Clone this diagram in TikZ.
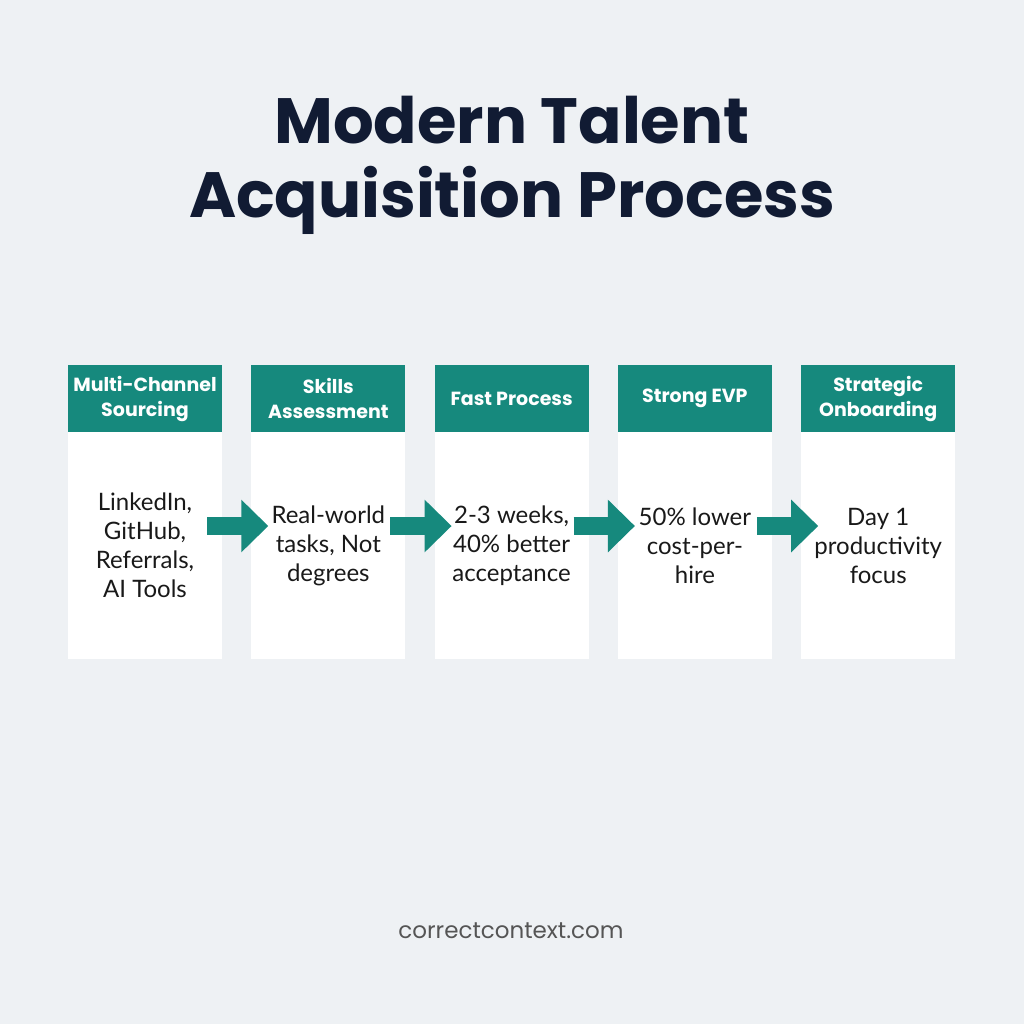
\documentclass[tikz,border=0pt]{standalone}
\usepackage{fontspec}
\setmainfont{Lato}
\newfontfamily\titlefont{Poppins}
\usepackage{xcolor}
\usetikzlibrary{arrows.meta, positioning}

\definecolor{stepteal}{HTML}{16897D}
\definecolor{titlenavy}{HTML}{111B33}
\definecolor{canvas}{HTML}{EEF1F4}
\definecolor{footgray}{HTML}{555555}

\begin{document}
\begin{tikzpicture}[
    node distance=0pt and 14.65pt,
    header/.style={rectangle, fill=stepteal, minimum width=77pt, minimum height=33.5pt, inner sep=0pt, outer sep=0pt, align=center, text=white, font=\titlefont\bfseries\fontsize{9.5}{12.5}\selectfont},
    body/.style={rectangle, fill=white, minimum width=77pt, minimum height=113.5pt, inner sep=0pt, outer sep=0pt, align=center, text=black!90, font=\fontsize{12}{14.5}\selectfont},
    arrow/.style={-{Triangle[length=13.5pt, width=25.5pt]}, line width=9pt, draw=stepteal}
]
\fill[canvas] (0,0) rectangle (512pt,-512pt);
\node[font=\titlefont\bfseries\fontsize{32}{37}\selectfont, text=titlenavy, align=center] (title) at (256pt,-82.5pt) {Modern Talent\\Acquisition Process};
\node[header] (src_head) at (72.5pt,-199.25pt) {Multi-Channel\\Sourcing};
\node[header, right=of src_head] (skill_head) {Skills\\Assessment};
\node[header, right=of skill_head] (fast_head) {Fast Process};
\node[header, right=of fast_head] (evp_head) {Strong EVP};
\node[header, right=of evp_head] (onb_head) {Strategic\\Onboarding};
\node[body, below=of src_head] (src_body) {LinkedIn,\\GitHub,\\Referrals,\\AI Tools};
\node[body, below=of skill_head] (skill_body) {Real-world\\tasks, Not\\degrees};
\node[body, below=of fast_head] (fast_body) {2-3 weeks,\\40\% better\\acceptance};
\node[body, below=of evp_head] (evp_body) {50\% lower\\cost-per-\\hire};
\node[body, below=of onb_head] (onb_body) {Day 1\\productivity\\focus};
\draw[arrow] ([xshift=-7.5pt, yshift=9.75pt]src_body.east) -- ([xshift=8.5pt, yshift=9.75pt]skill_body.west);
\draw[arrow] ([xshift=-7.5pt, yshift=9.75pt]skill_body.east) -- ([xshift=8.5pt, yshift=9.75pt]fast_body.west);
\draw[arrow] ([xshift=-7.5pt, yshift=9.75pt]fast_body.east) -- ([xshift=8.5pt, yshift=9.75pt]evp_body.west);
\draw[arrow] ([xshift=-7.5pt, yshift=9.75pt]evp_body.east) -- ([xshift=8.5pt, yshift=9.75pt]onb_body.west);
\node[font=\titlefont\fontsize{11.5}{13}\selectfont, text=footgray, anchor=base] (site) at (255.5pt,-469pt) {correctcontext.com};
\end{tikzpicture}
\end{document}
